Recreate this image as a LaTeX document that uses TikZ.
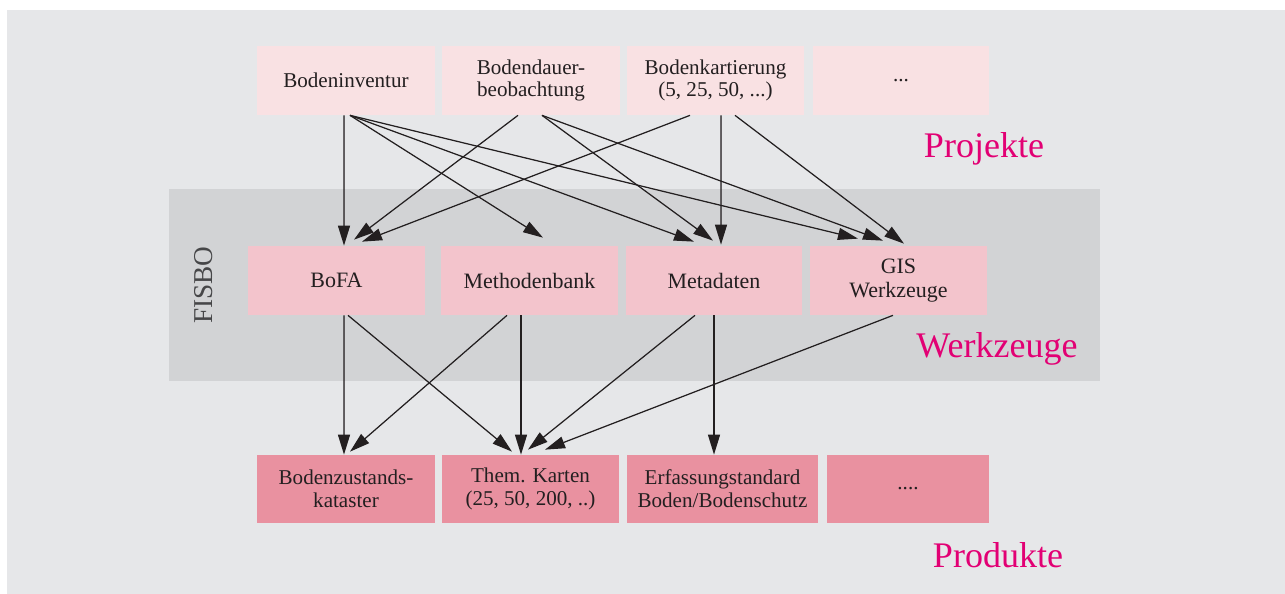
\documentclass[tikz,border=0pt]{standalone}
\usepackage{fontspec}
\setmainfont{Liberation Serif}
\usepackage{tikz}
\usetikzlibrary{arrows.meta, calc}
\definecolor{PanelGray}{RGB}{230,231,233}
\definecolor{BandGray}{RGB}{210,211,213}
\definecolor{ProjPink}{RGB}{249,225,227}
\definecolor{ToolPink}{RGB}{243,196,204}
\definecolor{ProdPink}{RGB}{233,145,160}
\definecolor{AccentMagenta}{RGB}{226,0,116}
\definecolor{TextDark}{RGB}{35,31,32}
\definecolor{FisboGray}{RGB}{70,70,72}

\begin{document}
\begin{tikzpicture}[x=0.02cm, y=-0.02cm,
    box/.style={minimum height=1.38cm, inner sep=0pt, align=center, text=TextDark, font=\fontsize{12}{13}\selectfont},
    proj/.style={box, fill=ProjPink, minimum width=3.56cm},
    tool/.style={box, fill=ToolPink, minimum width=3.54cm, font=\fontsize{12.5}{14}\selectfont},
    prod/.style={box, fill=ProdPink, minimum height=1.36cm},
    layer/.style={text=AccentMagenta, font=\fontsize{20.5}{24}\selectfont, anchor=base},
    arr/.style={-{Triangle[length=0.4cm, width=0.24cm]}, line width=0.7pt, draw=TextDark, fill=TextDark}]

    % Background
    \useasboundingbox (0,0) rectangle (1285,594);
    \fill[PanelGray] (7,10) rectangle (1285,594);
    \fill[BandGray] (169,189) rectangle (1100,381);

    % Projekte
    \node[proj] (bi) at (346,80.5) {Bodeninventur};
    \node[proj] (bd) at (531,80.5) {Bodendauer-\\beobachtung};
    \node[proj, minimum width=3.54cm] (bk) at (715.5,80.5) {Bodenkartierung\\(5, 25, 50, ...)};
    \node[proj, minimum width=3.52cm] (pmore) at (901,80.5) {...};

    % Werkzeuge
    \node[tool] (bofa) at (336.5,280.5) {BoFA};
    \node[tool] (mb) at (529.5,280.5) {Methodenbank};
    \node[tool, minimum width=3.52cm] (md) at (714,280.5) {Metadaten};
    \node[tool] (gis) at (898.5,280.5) {GIS\\Werkzeuge};

    % Produkte
    \node[prod, minimum width=3.56cm] (bz) at (346,489) {Bodenzustands-\\kataster};
    \node[prod, minimum width=3.54cm] (tk) at (530.5,489) {Them. Karten\\(25, 50, 200, ..)};
    \node[prod, minimum width=3.82cm] (ef) at (722.5,489) {Erfassungstandard\\Boden/Bodenschutz};
    \node[prod, minimum width=3.24cm] (dmore) at (908,489) {....};

    % Labels
    \node[layer] (lproj) at (984,158) {Projekte};
    \node[layer] (ltool) at (997,358) {Werkzeuge};
    \node[layer] (lprod) at (998,567) {Produkte};
    \node[rotate=90, text=FisboGray, font=\fontsize{15.5}{18}\selectfont] (fisbo) at (204,285) {FISBO};

    % Projekte -> Werkzeuge
    \draw[arr] ($(bi.south)+(-2,0)$) -- ($(bofa.north)+(7.5,0)$);
    \draw[arr] ($(bi.south)+(4,0)$) -- ($(mb.north)+(13.5,-8)$);
    \draw[arr] ($(bi.south)+(4,0)$) -- ($(md.north)+(-20,-4)$);
    \draw[arr] ($(bi.south)+(4,0)$) -- ($(gis.north)+(-40.5,-7)$);
    \draw[arr] ($(bd.south)+(-13,0)$) -- ($(bofa.north)+(17.5,-6)$);
    \draw[arr] ($(bd.south)+(11,0)$) -- ($(md.north)+(-1,-5)$);
    \draw[arr] ($(bd.south)+(11,0)$) -- ($(gis.north)+(-15.5,-5)$);
    \draw[arr] ($(bk.south)+(-25.5,0)$) -- ($(bofa.north)+(25.5,-4)$);
    \draw[arr] ($(bk.south)+(5.5,0)$) -- ($(md.north)+(7,-1)$);
    \draw[arr] ($(bk.south)+(19.5,0)$) -- ($(gis.north)+(5.5,-2)$);

    % Werkzeuge -> Produkte
    \draw[arr] ($(bofa.south)+(7.5,0)$) -- ($(bz.north)+(-2,0)$);
    \draw[arr] ($(bofa.south)+(11.5,0)$) -- ($(tk.north)+(-18.5,-3)$);
    \draw[arr] ($(mb.south)+(-22.5,0)$) -- ($(bz.north)+(4,-3)$);
    \draw[arr] ($(mb.south)+(-8.5,0)$) -- ($(tk.north)+(-9.5,0)$);
    \draw[arr] ($(md.south)+(-19,0)$) -- ($(tk.north)+(-2.5,-5)$);
    \draw[arr] (md.south) -- ($(ef.north)+(-8.5,0)$);
    \draw[arr] ($(gis.south)+(-5.5,0)$) -- ($(tk.north)+(14.5,-5)$);
\end{tikzpicture}
\end{document}
